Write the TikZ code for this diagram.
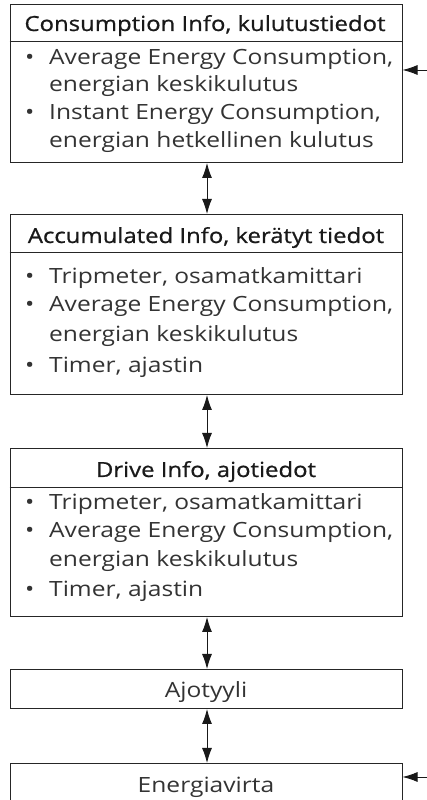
\documentclass[tikz,border=0pt]{standalone}
\usepackage{fontspec}
\setmainfont{Open Sans}[FakeStretch=1.17]
\newfontfamily\headfont{Open Sans}[FakeStretch=1.15, FakeBold=0.8]
\usetikzlibrary{arrows.meta}
\begin{document}
\begin{tikzpicture}[x=1pt,y=1pt,
  box/.style={draw=black!85, line width=1pt, minimum width=392pt, inner sep=0pt, anchor=north},
  sep/.style={draw=black!85, line width=1pt},
  head/.style={anchor=base, inner sep=0pt, font=\headfont\fontsize{20.8}{24}\selectfont, text=black!90},
  line/.style={anchor=base west, inner sep=0pt, font=\fontsize{21}{24}\selectfont, text=black!80},
  conn/.style={black!90, line width=0.9pt, {Latex[length=15pt,width=10pt]}-{Latex[length=15pt,width=10pt]}},
  inarr/.style={black!90, line width=0.9pt, -{Latex[length=15pt,width=10pt]}}
]
\useasboundingbox (0,0) rectangle (427,800);
\clip (0,0) rectangle (427,800);
\newcommand{\bul}{\makebox[24pt][l]{\textbullet}}
% boxes (tikz y = 800 - pixel y)
\node[box, minimum height=158pt] (b1) at (206,796) {};
\node[box, minimum height=180pt] (b2) at (206,586) {};
\node[box, minimum height=168pt] (b3) at (206,352) {};
\node[box, minimum height=39pt]  (b4) at (206,131) {};
\node[box, minimum height=60pt]  (b5) at (206,37) {};
% header separators
\draw[sep] (b1.west |- 0,758) -- (b1.east |- 0,758);
\draw[sep] (b2.west |- 0,547) -- (b2.east |- 0,547);
\draw[sep] (b3.west |- 0,312) -- (b3.east |- 0,312);
% box 1
\node[head] (h1) at (205,769) {Consumption Info, kulutustiedot};
\node[line] (t11) at (25,735) {\bul Average Energy Consumption,};
\node[line] (t12) at (25,708) {\hspace*{24pt}energian keskikulutus};
\node[line] (t13) at (25,680) {\bul Instant Energy Consumption,};
\node[line] (t14) at (25,652) {\hspace*{24pt}energian hetkellinen kulutus};
% box 2
\node[head] (h2) at (206,557) {Accumulated Info, kerätyt tiedot};
\node[line] (t21) at (25,516) {\bul Tripmeter, osamatkamittari};
\node[line] (t22) at (25,488) {\bul Average Energy Consumption,};
\node[line] (t23) at (25,458) {\hspace*{24pt}energian keskikulutus};
\node[line] (t24) at (25,427) {\bul Timer, ajastin};
% box 3
\node[head] (h3) at (206,323) {Drive Info, ajotiedot};
\node[line] (t31) at (25,290) {\bul Tripmeter, osamatkamittari};
\node[line] (t32) at (25,262) {\bul Average Energy Consumption,};
\node[line] (t33) at (25,233) {\hspace*{24pt}energian keskikulutus};
\node[line] (t34) at (25,203) {\bul Timer, ajastin};
% box 4, 5
\node[line, anchor=base] (t4) at (206,102) {Ajotyyli};
\node[line, anchor=base] (t5) at (206,8) {Energiavirta};
% connectors
\draw[conn] ([xshift=1pt]b1.south) -- ([xshift=1pt]b2.north);
\draw[conn] ([xshift=1pt]b2.south) -- ([xshift=1pt]b3.north);
\draw[conn] ([xshift=1pt]b3.south) -- ([xshift=1pt]b4.north);
\draw[conn] ([xshift=1pt]b4.south) -- ([xshift=1pt]b5.north);
\coordinate (in1) at (427,730);
\coordinate (in5) at (427,23);
\draw[inarr] (in1) -- (b1.east |- in1);
\draw[inarr] (in5) -- (b5.east |- in5);
\end{tikzpicture}
\end{document}
